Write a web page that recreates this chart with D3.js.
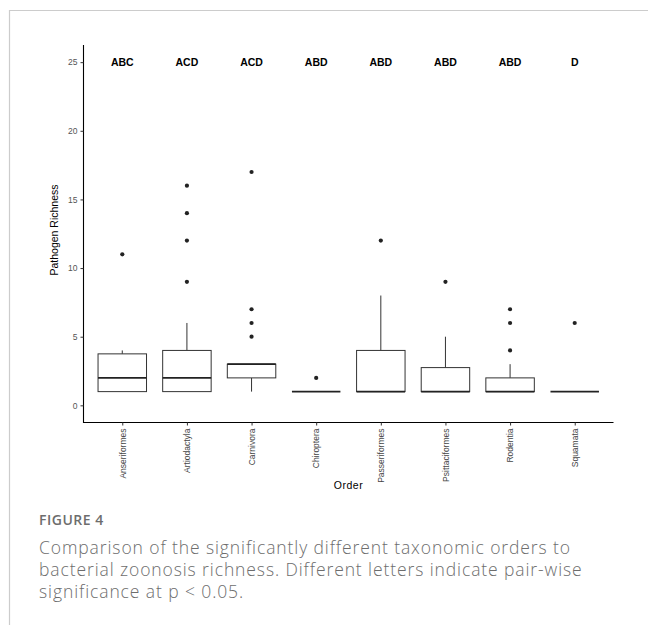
<!DOCTYPE html>
<html>
<head>
<meta charset="utf-8">
<script src="https://d3js.org/d3.v7.min.js"></script>
<style>
    body { margin: 0; background: #fff; }
    svg text { font-family: "Liberation Sans", Arial, sans-serif; }
    svg text.caption { font-family: "Open Sans", sans-serif; }
</style>
</head>
<body>
<svg width="648" height="625"></svg>
<script>

    // data
    var orders = ["Anseriformes", "Artiodactyla", "Carnivora", "Chiroptera",
                  "Passeriformes", "Psittaciformes", "Rodentia", "Squamata"];
    var lowerWhisker = [1, 1, 1, 1, 1, 1, 1, 1];
    var q1           = [1, 1, 2, 1, 1, 1, 1, 1];
    var medians      = [2, 2, 3, 1, 1, 1, 1, 1];
    var q3           = [3.75, 4, 3, 1, 4, 2.75, 2, 1];
    var upperWhisker = [4, 6, 3, 1, 8, 5, 3, 1];
    var outliers     = [[11], [9, 12, 14, 16], [5, 6, 7, 17], [2], [12], [9], [4, 6, 7], [6]];
    var letters      = ["ABC", "ACD", "ACD", "ABD", "ABD", "ABD", "ABD", "D"];
    var letterY = 25;
    var yTicks = [0, 5, 10, 15, 20, 25];

    var svg = d3.select("svg");

    // figure frame
    svg.append("line").attr("x1", 10).attr("x2", 648).attr("y1", 10.5).attr("y2", 10.5)
        .attr("stroke", "#cccccc").attr("stroke-width", 1.2);
    svg.append("line").attr("x1", 9.5).attr("x2", 9.5).attr("y1", 10).attr("y2", 625)
        .attr("stroke", "#cccccc").attr("stroke-width", 1.2);

    var plotLeft = 83.5, plotRight = 613.5, plotTop = 45, plotBottom = 422.5;

    var x = d3.scalePoint().domain(orders).range([plotLeft, plotRight]).padding(0.6);
    var y = d3.scaleLinear().domain([-1.25, 26.25]).range([plotBottom, plotTop]);
    var boxW = x.step() * 0.75;

    var data = orders.map(function(o, i) {
        return { order: o, lo: lowerWhisker[i], q1: q1[i], med: medians[i], q3: q3[i],
                 hi: upperWhisker[i], out: outliers[i], letter: letters[i] };
    });

    var g = svg.append("g");

    // whiskers
    g.selectAll(".wh").data(data).enter().append("line")
        .attr("x1", function(d) { return x(d.order); })
        .attr("x2", function(d) { return x(d.order); })
        .attr("y1", function(d) { return y(d.q3); })
        .attr("y2", function(d) { return y(d.hi); })
        .attr("stroke", "#333").attr("stroke-width", 1);
    g.selectAll(".wl").data(data).enter().append("line")
        .attr("x1", function(d) { return x(d.order); })
        .attr("x2", function(d) { return x(d.order); })
        .attr("y1", function(d) { return y(d.q1); })
        .attr("y2", function(d) { return y(d.lo); })
        .attr("stroke", "#333").attr("stroke-width", 1);

    // boxes
    g.selectAll(".box").data(data).enter().append("rect")
        .attr("x", function(d) { return x(d.order) - boxW / 2; })
        .attr("width", boxW)
        .attr("y", function(d) { return y(d.q3); })
        .attr("height", function(d) { return y(d.q1) - y(d.q3); })
        .attr("fill", "#fff").attr("stroke", "#333").attr("stroke-width", 1);

    // medians
    g.selectAll(".med").data(data).enter().append("line")
        .attr("x1", function(d) { return x(d.order) - boxW / 2; })
        .attr("x2", function(d) { return x(d.order) + boxW / 2; })
        .attr("y1", function(d) { return y(d.med); })
        .attr("y2", function(d) { return y(d.med); })
        .attr("stroke", "#222").attr("stroke-width", 1.8);

    // outliers
    data.forEach(function(d) {
        g.selectAll(null).data(d.out).enter().append("circle")
            .attr("cx", x(d.order))
            .attr("cy", function(v) { return y(v); })
            .attr("r", 2.1)
            .attr("fill", "#222");
    });

    // significance letters
    g.selectAll(".letter").data(data).enter().append("text")
        .attr("x", function(d) { return x(d.order); })
        .attr("y", y(letterY))
        .attr("dy", "0.35em")
        .attr("text-anchor", "middle")
        .attr("font-size", 10.5)
        .attr("font-weight", "bold")
        .attr("fill", "#000")
        .text(function(d) { return d.letter; });

    // axes
    var yAxis = svg.append("g").attr("transform", "translate(" + plotLeft + ",0)")
        .call(d3.axisLeft(y).tickValues(yTicks).tickSize(3).tickPadding(3));
    var xAxis = svg.append("g").attr("transform", "translate(0," + plotBottom + ")")
        .call(d3.axisBottom(x).tickSize(3).tickPadding(4));

    [yAxis, xAxis].forEach(function(a) {
        a.select(".domain").attr("stroke", "#000").attr("stroke-width", 1.1);
        a.selectAll(".tick line").attr("stroke", "#333");
        a.selectAll("text").attr("font-size", 8.5).attr("fill", "#555");
    });
    yAxis.select(".domain").attr("d", "M0," + plotTop + "V" + (plotBottom + 0.5));
    xAxis.select(".domain").attr("d", "M" + plotLeft + ",0H" + plotRight);

    xAxis.selectAll(".tick text")
        .attr("transform", "rotate(-90)")
        .attr("text-anchor", "end")
        .attr("x", -6).attr("y", 0).attr("dy", "0.32em")
        .attr("fill", "#444");

    // axis titles
    svg.append("text")
        .attr("transform", "translate(58,230) rotate(-90)")
        .attr("text-anchor", "middle")
        .attr("font-size", 10.5)
        .attr("fill", "#000")
        .text("Pathogen Richness");
    svg.append("text")
        .attr("x", (plotLeft + plotRight) / 2)
        .attr("y", 489)
        .attr("text-anchor", "middle")
        .attr("font-size", 10.5)
        .attr("letter-spacing", 0.5)
        .attr("fill", "#000")
        .text("Order");

    // caption
    svg.append("text").attr("class", "caption")
        .attr("x", 39).attr("y", 525)
        .attr("font-size", 14).attr("font-weight", 600)
        .attr("letter-spacing", 0.5)
        .attr("fill", "#6d6d6d")
        .text("FIGURE 4");
    var captionLines = ["Comparison of the significantly different taxonomic orders to",
                        "bacterial zoonosis richness. Different letters indicate pair-wise",
                        "significance at p < 0.05."];
    svg.selectAll(".capline").data(captionLines).enter().append("text")
        .attr("class", "caption")
        .attr("x", 39)
        .attr("y", function(d, i) { return 554 + i * 22; })
        .attr("font-size", 17.5)
        .attr("font-weight", 300)
        .attr("letter-spacing", 0.9)
        .attr("fill", "#6d6d6d")
        .text(function(d) { return d; });

</script>
</body>
</html>
